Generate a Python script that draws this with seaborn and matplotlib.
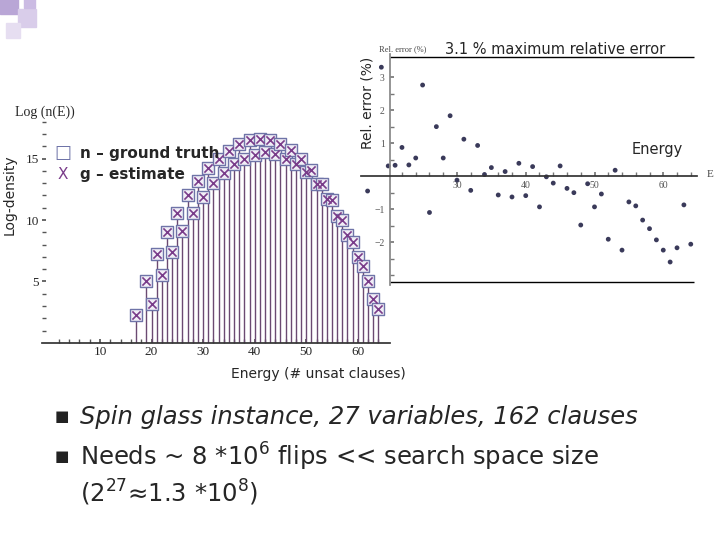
import matplotlib
matplotlib.use("Agg")
import matplotlib.pyplot as plt
import matplotlib.patches as mpatches
import pandas as pd
import seaborn as sns

sns.set_theme(style="white")

PURPLE, SLATE, STEM = "#7a3c8a", "#6f74a8", "#6b4a72"

energy = [17, 19, 20, 21, 22, 23, 24, 25, 26, 27, 28, 29, 30, 31, 32, 33, 34, 35, 36,
          37, 38, 39, 40, 41, 42, 43, 44, 45, 46, 47, 48, 49, 50, 51, 52, 53, 54, 55,
          56, 57, 58, 59, 60, 61, 62, 63, 64]
log_density = [2.3, 5.05, 3.2, 7.2, 5.5, 9.0, 7.4, 10.6, 9.1, 12.0, 10.6, 13.2, 11.9,
               14.2, 13.0, 15.0, 13.8, 15.6, 14.6, 16.2, 15.0, 16.5, 15.3, 16.6, 15.5,
               16.5, 15.4, 16.2, 15.0, 15.7, 14.6, 15.0, 13.9, 14.1, 12.9, 12.9, 11.7,
               11.6, 10.3, 10.0, 8.8, 8.2, 7.0, 6.3, 5.05, 3.6, 2.8]
rel_error = [-0.45, 3.3, 0.31, 0.33, 0.87, 0.34, 0.55, 2.76, -1.1, 1.5, 0.55, 1.83,
             -0.12, 1.12, -0.43, 0.93, 0.05, 0.26, -0.57, 0.14, -0.63, 0.39, -0.59,
             0.29, -0.93, -0.02, -0.21, 0.31, -0.37, -0.5, -1.48, -0.23, -0.93, -0.54,
             -1.91, 0.18, -2.24, -0.78, -0.9, -1.33, -1.59, -1.93, -2.24, -2.6, -2.17,
             -0.87, -2.06]
df = pd.DataFrame({"E": energy, "logn": log_density, "err": rel_error})

fig = plt.figure(figsize=(7.2, 5.4), dpi=100)
serif = "Liberation Serif"

# decorative squares top-left
for (x, y, s, c) in [(0.0, 0.975, 0.025, "#b9a6d6"), (0.025, 0.95, 0.025, "#d9cdea"),
                     (0.008, 0.93, 0.02, "#e6def1"), (0.033, 0.985, 0.015, "#cbbbe3")]:
    fig.patches.append(mpatches.Rectangle((x, y), s, s * 1.33, transform=fig.transFigure,
                                          color=c, zorder=0))

# main stem plot
ax = fig.add_axes([0.058, 0.365, 0.484, 0.43])
ax.set_facecolor("none")
ax.vlines(df["E"], 0, df["logn"], color=STEM, lw=1)
sns.scatterplot(data=df, x="E", y="logn", marker="s", s=85, facecolor="#f1eef7",
                edgecolor=SLATE, linewidth=1.0, ax=ax, zorder=3)
sns.scatterplot(data=df, x="E", y="logn", marker="x", s=35, color=PURPLE,
                linewidth=1.2, ax=ax, zorder=4)
ax.set_xlim(-1.3, 66.3)
ax.set_ylim(0, 18.9)
ax.spines[["top", "right", "left"]].set_visible(False)
ax.spines["bottom"].set_color("#333333")
ax.set_xticks([10, 20, 30, 40, 50, 60])
ax.set_yticks([5, 10, 15])
ax.set_xticks(range(2, 65, 2), minor=True)
ax.set_yticks(range(1, 19), minor=True)
ax.tick_params(which="both", direction="in", length=3, color="#555555",
               bottom=True, left=True, labelsize=9.5, pad=2)
for lab in ax.get_xticklabels() + ax.get_yticklabels():
    lab.set_fontfamily(serif)
ax.set_xlabel("")
ax.set_ylabel("")

# inset relative error plot
ins = fig.add_axes([0.501, 0.472, 0.467, 0.428])
ins.set_facecolor("none")
sns.scatterplot(data=df, x="E", y="err", s=12, color="#3a3a5a", edgecolor="none", ax=ins)
ins.set_xlim(16, 64.9)
ins.set_ylim(-3.3, 3.7)
ins.spines[["top", "right"]].set_visible(False)
ins.spines["left"].set_position(("data", 20.2))
ins.spines["bottom"].set_position(("data", 0))
ins.spines["left"].set_color("#888888")
ins.spines["bottom"].set_color("#333333")
ins.hlines([3.6, -3.2], [20.2, 20.2], [64.5, 64.5], color="black", lw=1)
ins.set_xticks([30, 40, 50, 60])
ins.set_yticks([-2, -1, 1, 2, 3])
ins.set_xticks(range(22, 65, 2), minor=True)
ins.set_yticks([-3, -2.5, -1.5, -0.5, 0.5, 1.5, 2.5], minor=True)
ins.tick_params(which="both", direction="in", length=3, color="#777777",
                bottom=True, left=True, labelsize=7, labelcolor="#555555")
for lab in ins.get_xticklabels() + ins.get_yticklabels():
    lab.set_fontfamily(serif)
ins.set_xlabel("")
ins.set_ylabel("")

# texts
fig.text(0.021, 0.785, "Log (n(E))", fontfamily=serif, fontsize=10)
fig.text(0.013, 0.64, "Log-density", rotation=90, fontsize=10, va="center", ha="center")
fig.text(0.511, 0.81, "Rel. error (%)", rotation=90, fontsize=10, va="center", ha="center")
fig.text(0.527, 0.905, "Rel. error (%)", fontfamily=serif, fontsize=6, color="#444444")
fig.text(0.618, 0.9, "3.1 % maximum relative error", fontsize=10.5)
fig.text(0.877, 0.715, "Energy", fontsize=10.5)
fig.text(0.982, 0.672, "E", fontfamily=serif, fontsize=8, color="#444444")
fig.text(0.442, 0.3, "Energy (# unsat clauses)", fontsize=10, ha="center")
fig.text(0.076, 0.716, "\u25a1", fontsize=13, color=SLATE, va="center")
fig.text(0.111, 0.716, "n \u2013 ground truth", fontsize=11, fontweight="bold", va="center")
fig.text(0.08, 0.676, "X", fontsize=11, color=PURPLE, va="center")
fig.text(0.111, 0.676, "g \u2013 estimate", fontsize=11, fontweight="bold", va="center")

# bullets
for y in (0.228, 0.154):
    fig.text(0.076, y, "\u25a0", fontsize=11, color="#222222", va="center")
fig.text(0.111, 0.228, "Spin glass instance, 27 variables, 162 clauses",
         fontsize=17.5, style="italic", va="center")
fig.text(0.111, 0.154, "Needs ~ 8 *10$^6$ flips << search space size",
         fontsize=17.5, va="center")
fig.text(0.111, 0.087, "(2$^{27}$\u22481.3 *10$^8$)", fontsize=17.5, va="center")

fig.savefig("out.png", dpi=100)
